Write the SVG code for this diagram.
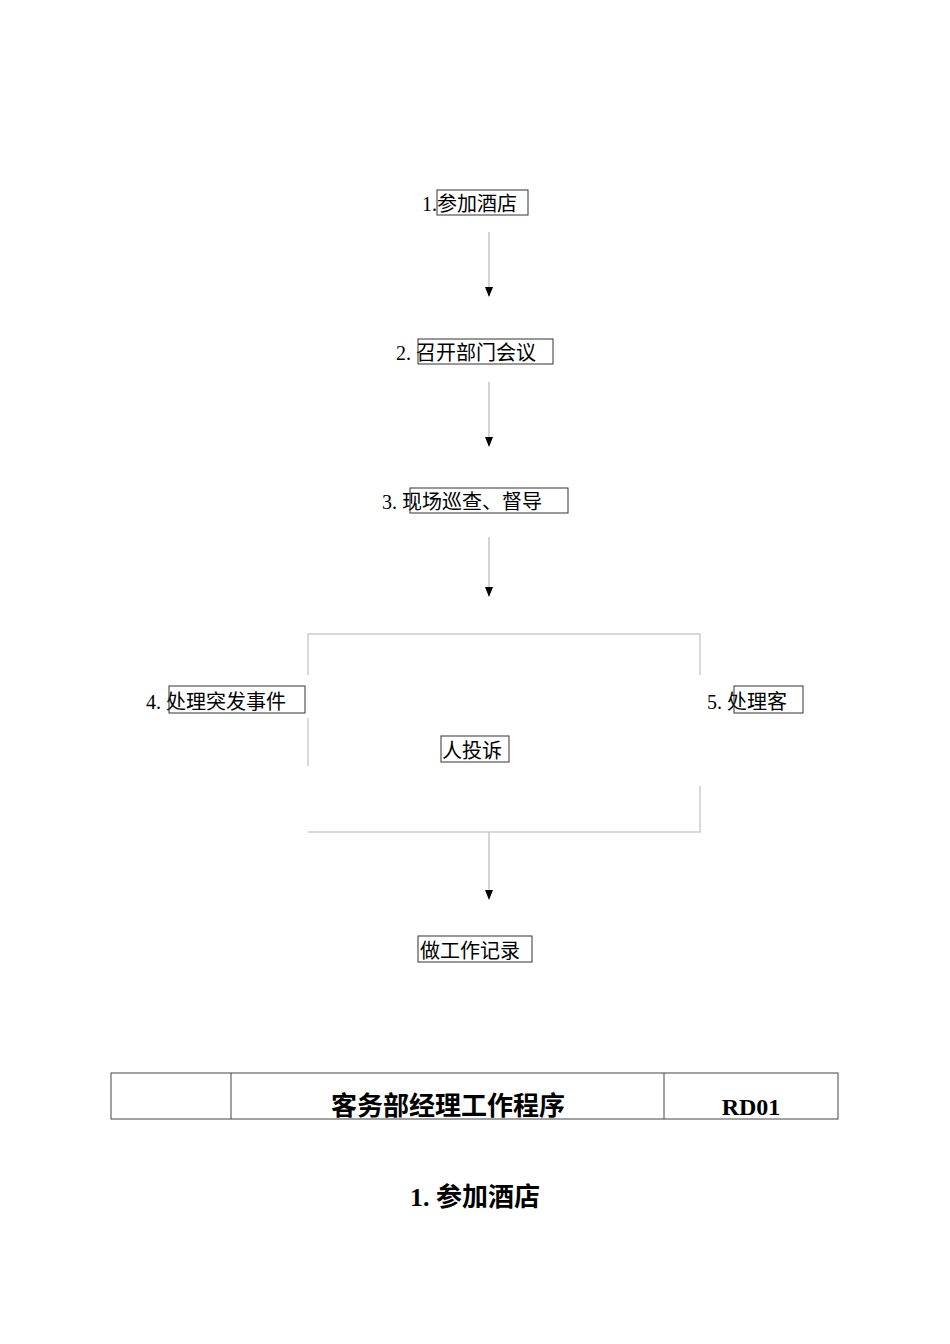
<svg xmlns="http://www.w3.org/2000/svg" width="950" height="1344" viewBox="0 0 950 1344">
<style>
text{font-family:"Liberation Serif","Noto Sans CJK SC",serif;font-size:20px;fill:#000}
.b{fill:none;stroke:#333;stroke-width:1}
.g{stroke:#ccc;stroke-width:1.5;fill:none}
.c{stroke:#aaa;stroke-width:1}
.t{stroke:#444;stroke-width:1;fill:none}
</style>
<defs><marker id="a" markerWidth="10" markerHeight="10" refX="9" refY="5" orient="auto" markerUnits="userSpaceOnUse"><path d="M0,1 L10,5 L0,9 Z" fill="#000"/></marker></defs>
<g id="connectors">
<line class="c" x1="489" y1="232" x2="489" y2="296" marker-end="url(#a)"/>
<line class="c" x1="489" y1="382" x2="489" y2="446" marker-end="url(#a)"/>
<line class="c" x1="489" y1="537" x2="489" y2="596" marker-end="url(#a)"/>
<line class="c" x1="489" y1="832" x2="489" y2="899" marker-end="url(#a)"/>
<path class="g" d="M308,675 V634 H700 V675 M308,718 V766 M700,786 V832 H308"/>
</g>
<g id="n1"><text x="422" y="211">1.参加酒店</text><rect class="b" x="437" y="190" width="91" height="25"/></g>
<g id="n2"><text x="396" y="360">2. 召开部门会议</text><rect class="b" x="418" y="339" width="135" height="25"/></g>
<g id="n3"><text x="382" y="509">3.  现场巡查、督导</text><rect class="b" x="410" y="488" width="158" height="25"/></g>
<g id="n4"><text x="146" y="709">4. 处理突发事件</text><rect class="b" x="169" y="686" width="136" height="27"/></g>
<g id="n5"><text x="707" y="709">5.  处理客</text><rect class="b" x="734" y="686" width="69" height="27"/><text x="442" y="758">人投诉</text><rect class="b" x="441" y="736" width="68" height="26"/></g>
<g id="n6"><text x="420" y="958">做工作记录</text><rect class="b" x="418" y="936" width="114" height="26"/></g>
<g id="table">
<rect class="t" x="111" y="1073" width="727" height="46"/>
<line class="t" x1="231" y1="1073" x2="231" y2="1119"/>
<line class="t" x1="664" y1="1073" x2="664" y2="1119"/>
<text x="448" y="1115" text-anchor="middle" style="font-size:26px;font-weight:bold">客务部经理工作程序</text>
<text x="751" y="1115" text-anchor="middle" style="font-size:24px;font-weight:bold">RD01</text>
</g>
<text x="475" y="1206" text-anchor="middle" style="font-size:26px;font-weight:bold">1. 参加酒店</text>
</svg>
